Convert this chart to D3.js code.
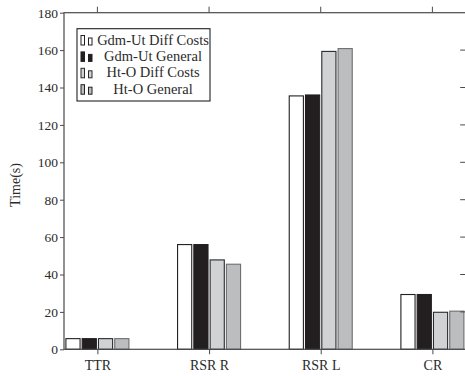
<!DOCTYPE html>
<html>
<head>
<meta charset="utf-8">
<script src="https://cdn.jsdelivr.net/npm/d3@7"></script>
<style>
  html, body { margin: 0; padding: 0; background: #fff; }
  svg text { font-family: "Liberation Serif", "DejaVu Serif", serif; fill: #2b2b2b; }
</style>
</head>
<body>
<svg id="chart" width="465" height="376"></svg>
<script>
// data
const categories = ['TTR', 'RSR R', 'RSR L', 'CR']
const seriesNames = ['Gdm-Ut Diff Costs', 'Gdm-Ut General', 'Ht-O Diff Costs', 'Ht-O General']
const gdmDiff = [5.7, 56, 135.5, 29.3]
const gdmGeneral = [5.7, 56, 136, 29.3]
const htoDiff = [5.7, 47.8, 159.3, 19.8]
const htoGeneral = [5.7, 45.5, 160.8, 20.4]
const yTicks = [0, 20, 40, 60, 80, 100, 120, 140, 160, 180]

const seriesValues = [gdmDiff, gdmGeneral, htoDiff, htoGeneral]
const fills = ['#ffffff', '#231f20', '#d1d2d4', '#bcbdbf']
const strokes = ['#231f20', '#231f20', '#2a2a2a', '#6d6e70']

const svg = d3.select('#chart')
const plotLeft = 64, plotRight = 465.7, plotTop = 12.7, plotBottom = 349.3
const font = '"Liberation Serif", serif'

let y = d3.scaleLinear().domain([0, 180]).range([plotBottom, plotTop])
let x = d3.scalePoint().domain(categories).range([97.4, 432.4])
let xs = d3.scaleBand().domain(seriesNames).range([-31.5, 31.5]).paddingInner(0.13)

// bars
seriesNames.forEach((name, j) => {
	svg.append('g')
		.selectAll('rect')
		.data(categories)
		.enter()
		.append('rect')
		.attr('x', c => x(c) + xs(name))
		.attr('width', xs.bandwidth())
		.attr('y', (c, i) => y(seriesValues[j][i]))
		.attr('height', (c, i) => y(0) - y(seriesValues[j][i]))
		.style('fill', fills[j])
		.style('stroke', strokes[j])
		.style('stroke-width', 1.1)
})

// frame
svg.append('rect')
	.attr('x', plotLeft).attr('y', plotTop)
	.attr('width', plotRight - plotLeft).attr('height', plotBottom - plotTop)
	.style('fill', 'none')
	.style('stroke', '#4a4a4a')
	.style('stroke-width', 1.2)

// y axis (left, outward ticks)
let yAxis = d3.axisLeft(y).tickValues(yTicks).tickSize(4).tickPadding(2)
let gy = svg.append('g').attr('transform', `translate(${plotLeft},0)`).call(yAxis)
gy.select('.domain').remove()
gy.selectAll('line').style('stroke', '#4a4a4a')
gy.selectAll('text').style('font-size', '13.5px').style('font-family', font).style('fill', '#2b2b2b')

// right side ticks pointing in
svg.append('g')
	.selectAll('line')
	.data(yTicks.slice(1, -1))
	.enter()
	.append('line')
	.attr('x1', plotRight - 5.5).attr('x2', plotRight)
	.attr('y1', d => y(d)).attr('y2', d => y(d))
	.style('stroke', '#4a4a4a')

// x axis bottom
let xAxis = d3.axisBottom(x).tickSize(5).tickPadding(6)
let gx = svg.append('g').attr('transform', `translate(0,${plotBottom})`).call(xAxis)
gx.select('.domain').remove()
gx.selectAll('line').style('stroke', '#4a4a4a')
gx.selectAll('text').style('font-size', '14px').style('font-family', font).style('fill', '#2b2b2b')

// x ticks on top, pointing out
svg.append('g')
	.selectAll('line')
	.data(categories)
	.enter()
	.append('line')
	.attr('x1', c => x(c)).attr('x2', c => x(c))
	.attr('y1', plotTop).attr('y2', plotTop - 6)
	.style('stroke', '#4a4a4a')

// y label
svg.append('text')
	.attr('transform', `translate(20,${(plotTop + plotBottom) / 2 + 4}) rotate(-90)`)
	.attr('text-anchor', 'middle')
	.style('font-size', '14px')
	.text('Time(s)')

// legend
let legend = svg.append('g')
legend.append('rect')
	.attr('x', 77).attr('y', 28.7)
	.attr('width', 133).attr('height', 72.3)
	.style('fill', '#fff')
	.style('stroke', '#231f20')
	.style('stroke-width', 1.1)

seriesNames.forEach((name, j) => {
	let cy = 40 + j * 16.4
	let base = cy + 5
	legend.append('rect')
		.attr('x', 81).attr('y', base - 9.5)
		.attr('width', 3.5).attr('height', 9.5)
		.style('fill', fills[j]).style('stroke', strokes[j === 3 ? 1 : j])
		.style('stroke-width', 1)
	legend.append('rect')
		.attr('x', 88.5).attr('y', base - 7)
		.attr('width', 3.5).attr('height', 7)
		.style('fill', fills[j]).style('stroke', strokes[j === 3 ? 1 : j])
		.style('stroke-width', 1)
	legend.append('text')
		.attr('x', 153).attr('y', cy + 4.5)
		.attr('text-anchor', 'middle')
		.style('font-size', '14.5px')
		.text(name)
})
</script>
</body>
</html>
